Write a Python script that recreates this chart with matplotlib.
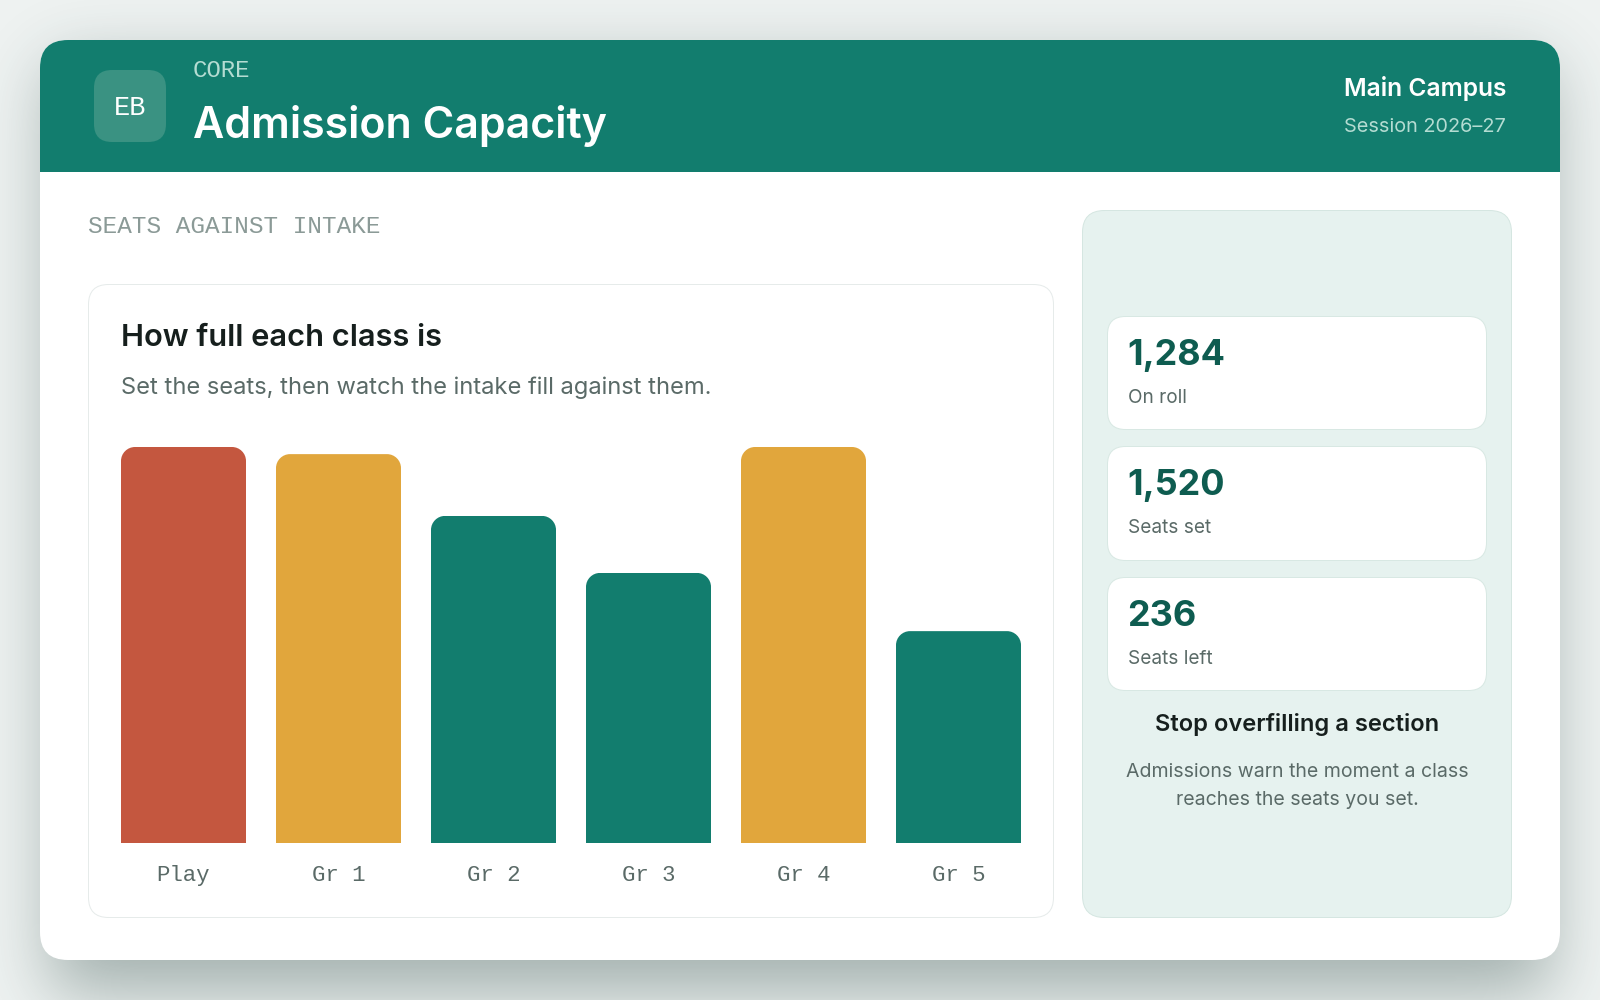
import numpy as np
import matplotlib
matplotlib.use("Agg")
import matplotlib.pyplot as plt
from matplotlib.patches import FancyBboxPatch, Rectangle
from matplotlib.path import Path

# chart data
CLASSES = ["Play", "Gr 1", "Gr 2", "Gr 3", "Gr 4", "Gr 5"]
FILL_PCT = [100, 98.2, 82.6, 68.2, 100, 53.5]
BAR_COLORS = ["#c4573f", "#e1a63c", "#127d6e", "#127d6e", "#e1a63c", "#127d6e"]

KPI_VALUES = ["1,284", "1,520", "236"]
KPI_LABELS = ["On roll", "Seats set", "Seats left"]

SANS = ["Inter", "DejaVu Sans"]
MONO = ["Liberation Mono", "DejaVu Sans Mono"]
TEAL = "#127d6e"
DARK = "#161f1d"
GREY = "#5a6a67"

W, H = 1600, 1000

fig = plt.figure(figsize=(W / 100, H / 100), dpi=100, facecolor="#eef2f1")
page = fig.add_axes([0, 0, 1, 1], zorder=0)
page.set_xlim(0, W)
page.set_ylim(H, 0)
page.axis("off")


def box(x0, y0, x1, y1, r, fc, ec="none", lw=0, z=1):
    patch = FancyBboxPatch(
        (x0, y0), x1 - x0, y1 - y0,
        boxstyle=f"round,pad=0,rounding_size={r}",
        fc=fc, ec=ec, lw=lw, zorder=z,
    )
    page.add_patch(patch)
    return patch


def label(x, y, s, px, color=DARK, family=SANS, weight="normal", ha="left"):
    # px is the css-ish font size, y the baseline
    page.text(x, y, s, fontsize=px * 0.72, color=color, family=family,
              fontweight=weight, ha=ha, va="baseline", zorder=6)


def soft_edge(n, a, b, sigma):
    step = np.zeros(n)
    step[max(a, 0):min(b, n)] = 1.0
    t = np.arange(-3 * sigma, 3 * sigma + 1)
    g = np.exp(-t ** 2 / (2 * sigma ** 2))
    pad = np.pad(step, len(t), mode="constant")
    return np.convolve(pad, g / g.sum(), mode="same")[len(t):-len(t)]


def draw_shadow():
    sx = soft_edge(W, 50, 1550, 34)
    sy = soft_edge(H, 66, 992, 34)
    alpha = np.outer(sy, sx) * 0.36
    rgba = np.zeros((H, W, 4))
    rgba[..., 0] = 0.10
    rgba[..., 1] = 0.22
    rgba[..., 2] = 0.20
    rgba[..., 3] = alpha
    page.imshow(rgba, extent=(0, W, H, 0), zorder=0.5, aspect="auto",
                interpolation="nearest")
    page.set_xlim(0, W)
    page.set_ylim(H, 0)


draw_shadow()

# main card and header band
card = box(40, 40, 1560, 960, 28, "#ffffff", z=1)
band = Rectangle((40, 40), 1520, 132, fc=TEAL, ec="none", zorder=2)
page.add_patch(band)
band.set_clip_path(card)

box(94, 70, 166, 142, 18, "#3a9282", z=3)
label(130, 115, "EB", 27, color="#ffffff", family=MONO, ha="center")
label(193, 77, "CORE", 24, color="#b4dcd2", family=MONO)
label(193, 138, "Admission Capacity", 43, color="#ffffff", weight="semibold")
label(1506, 96, "Main Campus", 24.6, color="#ffffff", weight="semibold", ha="right")
label(1506, 132, "Session 2026–27", 19.9, color="#b4dcd2", ha="right")

label(88, 233, "SEATS AGAINST INTAKE", 24.4, color="#8b9a97", family=MONO)

# chart panel
box(88.5, 284.5, 1053.5, 917.5, 20, "#ffffff", ec="#e6ebea", lw=0.72, z=2)
label(121, 346, "How full each class is", 30.8, weight="semibold")
label(121, 394, "Set the seats, then watch the intake fill against them.", 23.7, color=GREY)

# side panel
box(1082.5, 210.5, 1511.5, 917.5, 22, "#e6f2ef", ec="#d5e6e1", lw=0.72, z=2)
for top, bottom, value, name in zip((317, 447, 578), (429, 560, 690), KPI_VALUES, KPI_LABELS):
    box(1107.5, top - 0.5, 1486.5, bottom + 0.5, 18, "#ffffff", ec="#d8e8e3", lw=0.72, z=3)
    label(1127.5, top + 48, value, 36, color="#0e5c50", weight="bold")
    label(1128, top + 86, name, 19, color=GREY)

label(1297, 731, "Stop overfilling a section", 23.7, weight="semibold", ha="center")
label(1297, 777, "Admissions warn the moment a class", 19.5, color=GREY, ha="center")
label(1297, 805, "reaches the seats you set.", 19.5, color=GREY, ha="center")

# bars, the axes spans the bar area so 100 % is the tallest bar
ax = fig.add_axes([121 / W, 1 - 843 / H, 900 / W, 396 / H], zorder=2)
ax.patch.set_alpha(0)
x = np.arange(len(CLASSES))
bars = ax.bar(x, FILL_PCT, width=125 / 155, color=BAR_COLORS)
ax.set_xlim(-125 / 310, len(CLASSES) - 1 + 125 / 310)
ax.set_ylim(0, 100)
ax.set_yticks([])
ax.set_xticks(x, CLASSES, family=MONO, fontsize=22.4 * 0.72, color=GREY)
ax.tick_params(axis="x", length=0, pad=16)
for side in ax.spines.values():
    side.set_visible(False)


def round_top(bar, r_px=14):
    x0, w, h = bar.get_x(), bar.get_width(), bar.get_height()
    rx = r_px * w / 125
    ry = r_px * 100 / 396
    k = 0.45
    verts = [
        (x0, 0), (x0, h - ry),
        (x0, h - ry * k), (x0 + rx * k, h), (x0 + rx, h),
        (x0 + w - rx, h),
        (x0 + w - rx * k, h), (x0 + w, h - ry * k), (x0 + w, h - ry),
        (x0 + w, 0), (x0, 0),
    ]
    codes = [Path.MOVETO, Path.LINETO,
             Path.CURVE4, Path.CURVE4, Path.CURVE4,
             Path.LINETO,
             Path.CURVE4, Path.CURVE4, Path.CURVE4,
             Path.LINETO, Path.CLOSEPOLY]
    bar.set_clip_path(Path(verts, codes), ax.transData)


for bar in bars:
    round_top(bar)

fig.savefig("out.png", dpi=100, facecolor=fig.get_facecolor())
